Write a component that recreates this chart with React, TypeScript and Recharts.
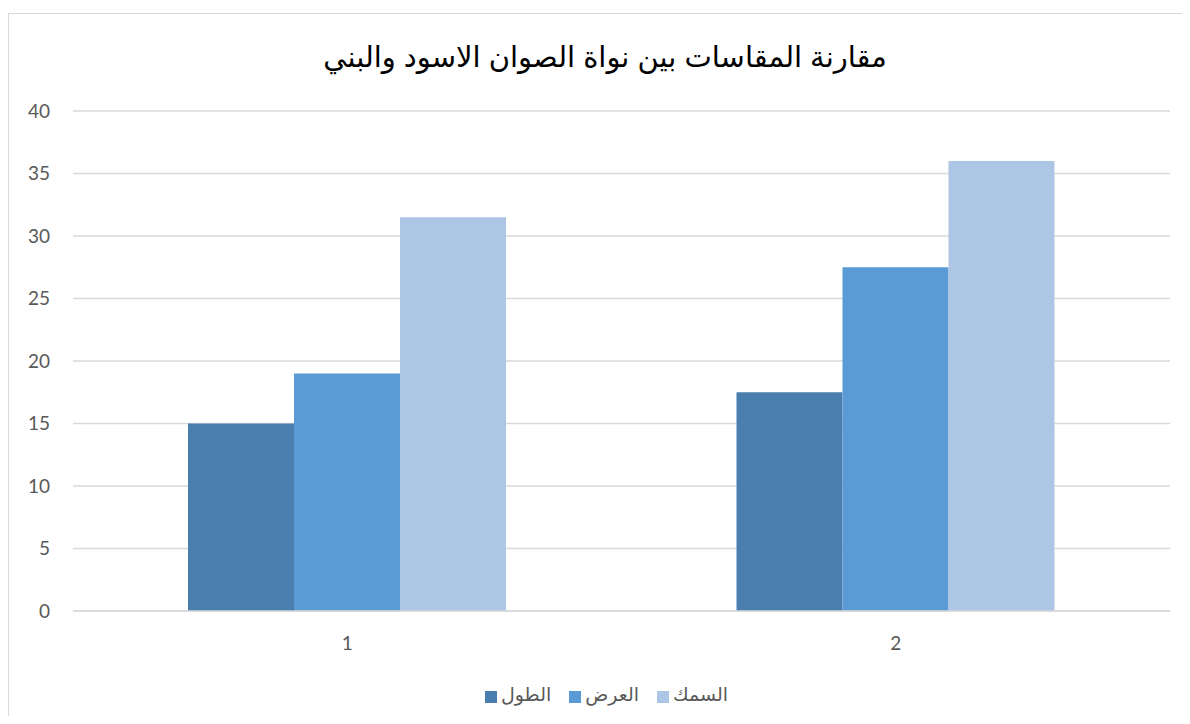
import React from "react";
import { BarChart, Bar, XAxis, YAxis, CartesianGrid, Legend } from "recharts";

// Categories on the x axis
const categories = ["1", "2"];

// Series values (one entry per category)
const lengthValues = [15, 17.5];
const widthValues = [19, 27.5];
const thicknessValues = [31.5, 36];

// Series names
const seriesNames = ["الطول", "العرض", "السمك"];

// Y axis ticks
const yTicks = [0, 5, 10, 15, 20, 25, 30, 35, 40];

const title = "مقارنة المقاسات بين نواة الصوان الاسود والبني";

const colors = ["#4A7EAF", "#5B9BD5", "#AEC6E6"];

const data = categories.map((c, i) => ({
  name: c,
  s0: lengthValues[i],
  s1: widthValues[i],
  s2: thicknessValues[i],
}));

const latin = "Lato, 'Liberation Sans', 'DejaVu Sans', sans-serif";
const arabic = "'Liberation Sans', 'DejaVu Sans', sans-serif";

export default function App() {
  return (
    <div style={{ position: "relative", width: 1182, height: 708, overflow: "hidden" }}>
      <div
        style={{
          position: "absolute",
          left: 0,
          top: 5,
          width: 1192,
          height: 720,
          border: "1px solid #d9d9d9",
          boxSizing: "border-box",
          background: "#fff",
        }}
      >
        <div
          style={{
            position: "absolute",
            left: 0,
            width: 1192,
            top: 23,
            textAlign: "center",
            fontFamily: arabic,
            fontSize: 29,
            color: "#000",
            lineHeight: "40px",
            direction: "rtl",
          }}
        >
          {title}
        </div>
        <BarChart
          width={1180}
          height={710}
          data={data}
          margin={{ top: 97, right: 19, left: 0, bottom: 18 }}
          barGap={0}
          barCategoryGap={115}
        >
          <CartesianGrid vertical={false} stroke="#d9d9d9" strokeWidth={1.5} />
          <XAxis
            dataKey="name"
            axisLine={{ stroke: "#d9d9d9", strokeWidth: 1.5 }}
            tickLine={false}
            tickMargin={20}
            height={72}
            tick={{ fill: "#595959", fontSize: 19, fontFamily: latin }}
          />
          <YAxis
            domain={[0, 40]}
            ticks={yTicks}
            width={64}
            axisLine={false}
            tickLine={false}
            tickMargin={17}
            tick={{ fill: "#595959", fontSize: 19, fontFamily: latin }}
          />
          <Legend
            verticalAlign="bottom"
            iconType="square"
            iconSize={12}
            itemSorter="dataKey"
            wrapperStyle={{ left: 26 }}
            formatter={(v: string) => (
              <span style={{ color: "#595959", fontFamily: arabic, fontSize: 19, marginRight: 8 }}>{v}</span>
            )}
          />
          {["s0", "s1", "s2"].map((k, i) => (
            <Bar
              key={k}
              dataKey={k}
              name={seriesNames[i]}
              fill={colors[i]}
              isAnimationActive={false}
            />
          ))}
        </BarChart>
      </div>
    </div>
  );
}
